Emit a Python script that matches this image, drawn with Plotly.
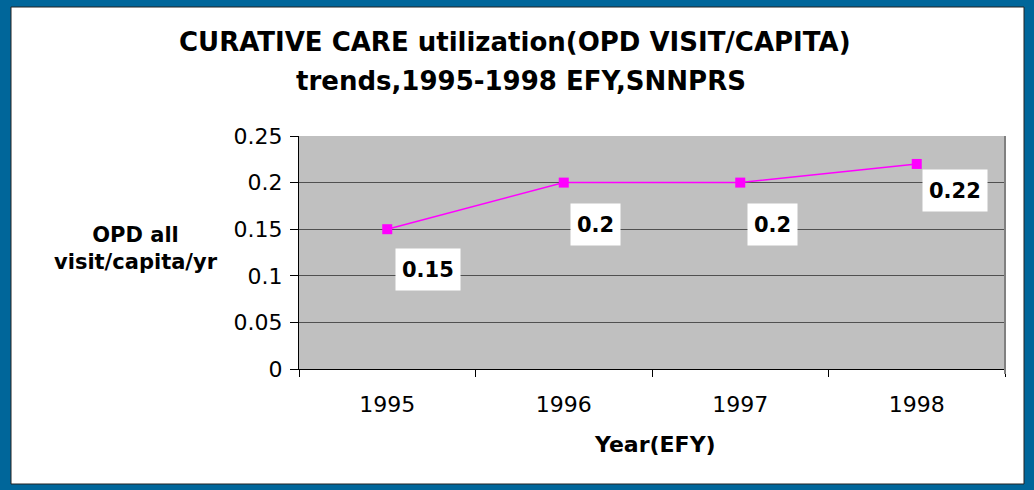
import plotly.graph_objects as go

years = ["1995", "1996", "1997", "1998"]
opd_per_capita = [0.15, 0.2, 0.2, 0.22]
y_ticks = [0, 0.05, 0.1, 0.15, 0.2, 0.25]
y_tick_labels = ["0", "0.05", "0.1", "0.15", "0.2", "0.25"]

title_lines = ["CURATIVE CARE utilization(OPD VISIT/CAPITA)", "trends,1995-1998 EFY,SNNPRS"]

# pixel offsets of the white value boxes from their points
label_offsets = [(41, -40), (32, -42), (32, -42), (38, -27)]

W, H = 1034, 490
L, R, T, B = 299, 29, 136, 121
pw, ph = W - L - R, H - T - B


def px_x(x):
    return (x - L) / pw


def px_y(y):
    return (H - B - y) / ph


font = "DejaVu Sans, Arial, sans-serif"
xpos = list(range(len(years)))
bounds = [i - 0.5 for i in range(len(years) + 1)]

fig = go.Figure()
fig.add_trace(go.Scatter(
    x=xpos, y=opd_per_capita, mode="lines+markers",
    line=dict(color="#FF00FF", width=1.5),
    marker=dict(symbol="square", size=10, color="#FF00FF"),
    hoverinfo="skip",
))

annotations = []
for xp, v, (dx, dy) in zip(xpos, opd_per_capita, label_offsets):
    annotations.append(dict(
        x=xp, y=v, xref="x", yref="y", text=f"<b>{v:g}</b>", showarrow=False,
        xanchor="center", yanchor="middle",
        xshift=dx, yshift=dy, bgcolor="white", borderpad=6, height=29,
        font=dict(size=21, color="black", family=font),
    ))


def text_at(x, y, text, size):
    annotations.append(dict(
        x=px_x(x), y=px_y(y), xref="paper", yref="paper", text=text,
        xanchor="center", yanchor="middle", align="center", showarrow=False,
        font=dict(size=size, color="black", family=font),
    ))


text_at(515, 42, f"<b>{title_lines[0]}</b>", 26)
text_at(521, 81, f"<b>{title_lines[1]}</b>", 26)
text_at(136, 248, "<b>OPD all<br>visit/capita/yr</b>", 21)
text_at(655, 444, "<b>Year(EFY)</b>", 22)

blue = "#00669A"
shapes = [
    dict(type="rect", xref="paper", yref="paper", layer="below", line_width=0, fillcolor=blue,
         x0=px_x(0), x1=px_x(11), y0=px_y(490), y1=px_y(0)),
    dict(type="rect", xref="paper", yref="paper", layer="below", line_width=0, fillcolor=blue,
         x0=px_x(1024), x1=px_x(1034), y0=px_y(490), y1=px_y(0)),
    dict(type="rect", xref="paper", yref="paper", layer="below", line_width=0, fillcolor=blue,
         x0=px_x(0), x1=px_x(1034), y0=px_y(7), y1=px_y(0)),
    dict(type="rect", xref="paper", yref="paper", layer="below", line_width=0, fillcolor=blue,
         x0=px_x(0), x1=px_x(1034), y0=px_y(490), y1=px_y(484)),
    dict(type="rect", xref="paper", yref="paper", layer="below",
         x0=px_x(11), x1=px_x(1024), y0=px_y(484), y1=px_y(7),
         line=dict(color="#222222", width=1)),
    # gray right border of the plot area
    dict(type="line", xref="paper", yref="paper", x0=1, x1=1, y0=px_y(374), y1=1,
         line=dict(color="#808080", width=2)),
]

fig.update_layout(
    width=W, height=H,
    margin=dict(l=L, r=R, t=T, b=B),
    paper_bgcolor="white",
    plot_bgcolor="#C0C0C0",
    showlegend=False,
    font=dict(family=font, color="black"),
    annotations=annotations,
    shapes=shapes,
)
fig.update_xaxes(
    range=[bounds[0], bounds[-1]], tickvals=xpos, ticktext=years, ticks="",
    minor=dict(tickvals=bounds, ticks="outside", ticklen=7, tickcolor="black", showgrid=False),
    showgrid=False, showline=True, linecolor="black", linewidth=1,
    tickfont=dict(size=22), zeroline=False, ticklabelstandoff=16,
)
fig.update_yaxes(
    range=[0, 0.25], tickvals=y_ticks, ticktext=y_tick_labels, ticks="outside",
    ticklen=8, tickcolor="black", showline=True, linecolor="black", linewidth=1,
    showgrid=True, gridcolor="#505050", gridwidth=1, tickfont=dict(size=22),
    zeroline=False, ticklabelstandoff=3,
)

# the page's default body margin would push the figure 8px off the window
fig.write_html("out.html", config={"displayModeBar": False},
               post_script="document.body.style.margin = '0px';")
